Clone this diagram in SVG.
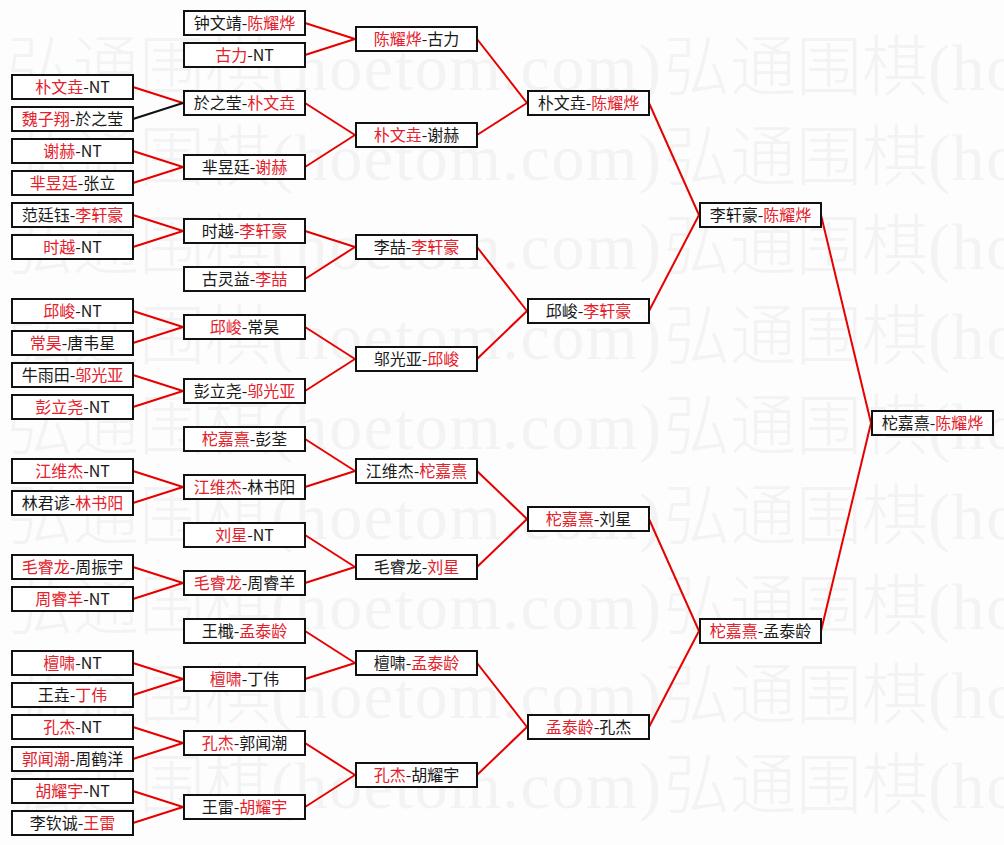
<svg xmlns="http://www.w3.org/2000/svg" width="1004" height="845" viewBox="0 0 1004 845">
<style>
.bg{fill:#fdfdfd}
.wm{font-family:"Noto Sans CJK SC",sans-serif;font-size:66px;font-weight:300;fill:#f3f3f3}
.wml{font-family:"Liberation Serif","Noto Sans CJK SC",serif;font-size:66px;fill:#f3f3f3}
.box{fill:#ffffff;stroke:#111111;stroke-width:2}
.t{font-family:"Noto Sans CJK SC",sans-serif;font-size:16px;fill:#1a1a1a;text-anchor:middle}
.r{fill:#e4212b}
.ln{stroke:#e60000;stroke-width:2;fill:none}
.lk{stroke:#111111;stroke-width:2;fill:none}
</style>
<defs>
<g id="wm">
<text class="wm" x="7" y="0">弘通围棋</text>
<text class="wml" x="271" y="0" textLength="390" lengthAdjust="spacing">(hoetom.com)</text>
</g>
</defs>
<rect class="bg" x="0" y="0" width="1004" height="845"/>
<g id="watermark">
<use href="#wm" x="0" y="90"/><use href="#wm" x="657" y="90"/>
<use href="#wm" x="0" y="180"/><use href="#wm" x="657" y="180"/>
<use href="#wm" x="0" y="269"/><use href="#wm" x="657" y="269"/>
<use href="#wm" x="0" y="359"/><use href="#wm" x="657" y="359"/>
<use href="#wm" x="0" y="449"/><use href="#wm" x="657" y="449"/>
<use href="#wm" x="0" y="539"/><use href="#wm" x="657" y="539"/>
<use href="#wm" x="0" y="629"/><use href="#wm" x="657" y="629"/>
<use href="#wm" x="0" y="718"/><use href="#wm" x="657" y="718"/>
<use href="#wm" x="0" y="808"/><use href="#wm" x="657" y="808"/>
</g>
<g id="connectors">
<line class="ln" x1="133" y1="87" x2="183" y2="103"/>
<line class="lk" x1="133" y1="119" x2="183" y2="103"/>
<line class="ln" x1="133" y1="151" x2="183" y2="167"/>
<line class="ln" x1="133" y1="183" x2="183" y2="167"/>
<line class="ln" x1="133" y1="215" x2="183" y2="231"/>
<line class="ln" x1="133" y1="247" x2="183" y2="231"/>
<line class="ln" x1="133" y1="311" x2="183" y2="327"/>
<line class="ln" x1="133" y1="343" x2="183" y2="327"/>
<line class="ln" x1="133" y1="375" x2="183" y2="391"/>
<line class="ln" x1="133" y1="407" x2="183" y2="391"/>
<line class="ln" x1="133" y1="471" x2="183" y2="487"/>
<line class="ln" x1="133" y1="503" x2="183" y2="487"/>
<line class="ln" x1="133" y1="567" x2="183" y2="583"/>
<line class="ln" x1="133" y1="599" x2="183" y2="583"/>
<line class="ln" x1="133" y1="663" x2="183" y2="679"/>
<line class="ln" x1="133" y1="695" x2="183" y2="679"/>
<line class="ln" x1="133" y1="727" x2="183" y2="743"/>
<line class="ln" x1="133" y1="759" x2="183" y2="743"/>
<line class="ln" x1="133" y1="791" x2="183" y2="807"/>
<line class="ln" x1="133" y1="823" x2="183" y2="807"/>
<line class="ln" x1="305" y1="23" x2="355" y2="39"/>
<line class="ln" x1="305" y1="55" x2="355" y2="39"/>
<line class="ln" x1="305" y1="103" x2="355" y2="135"/>
<line class="ln" x1="305" y1="167" x2="355" y2="135"/>
<line class="ln" x1="305" y1="231" x2="355" y2="247"/>
<line class="ln" x1="305" y1="279" x2="355" y2="247"/>
<line class="ln" x1="305" y1="327" x2="355" y2="359"/>
<line class="ln" x1="305" y1="391" x2="355" y2="359"/>
<line class="ln" x1="305" y1="439" x2="355" y2="471"/>
<line class="ln" x1="305" y1="487" x2="355" y2="471"/>
<line class="ln" x1="305" y1="535" x2="355" y2="567"/>
<line class="ln" x1="305" y1="583" x2="355" y2="567"/>
<line class="ln" x1="305" y1="631" x2="355" y2="663"/>
<line class="ln" x1="305" y1="679" x2="355" y2="663"/>
<line class="ln" x1="305" y1="743" x2="355" y2="775"/>
<line class="ln" x1="305" y1="807" x2="355" y2="775"/>
<line class="ln" x1="477" y1="39" x2="527" y2="103"/>
<line class="ln" x1="477" y1="135" x2="527" y2="103"/>
<line class="ln" x1="477" y1="247" x2="527" y2="311"/>
<line class="ln" x1="477" y1="359" x2="527" y2="311"/>
<line class="ln" x1="477" y1="471" x2="527" y2="519"/>
<line class="ln" x1="477" y1="567" x2="527" y2="519"/>
<line class="ln" x1="477" y1="663" x2="527" y2="727"/>
<line class="ln" x1="477" y1="775" x2="527" y2="727"/>
<line class="ln" x1="649" y1="103" x2="699" y2="215"/>
<line class="ln" x1="649" y1="311" x2="699" y2="215"/>
<line class="ln" x1="649" y1="519" x2="699" y2="631"/>
<line class="ln" x1="649" y1="727" x2="699" y2="631"/>
<line class="ln" x1="821" y1="215" x2="871" y2="423"/>
<line class="ln" x1="821" y1="631" x2="871" y2="423"/>
</g>
<!-- column 1 -->
<g id="r1-1"><rect class="box" x="12" y="75" width="121" height="24"/><text class="t" x="72.5" y="93"><tspan class="r">朴文垚</tspan>-NT</text></g>
<g id="r1-2"><rect class="box" x="12" y="107" width="121" height="24"/><text class="t" x="72.5" y="125"><tspan class="r">魏子翔</tspan>-於之莹</text></g>
<g id="r1-3"><rect class="box" x="12" y="139" width="121" height="24"/><text class="t" x="72.5" y="157"><tspan class="r">谢赫</tspan>-NT</text></g>
<g id="r1-4"><rect class="box" x="12" y="171" width="121" height="24"/><text class="t" x="72.5" y="189"><tspan class="r">芈昱廷</tspan>-张立</text></g>
<g id="r1-5"><rect class="box" x="12" y="203" width="121" height="24"/><text class="t" x="72.5" y="221">范廷钰-<tspan class="r">李轩豪</tspan></text></g>
<g id="r1-6"><rect class="box" x="12" y="235" width="121" height="24"/><text class="t" x="72.5" y="253"><tspan class="r">时越</tspan>-NT</text></g>
<g id="r1-7"><rect class="box" x="12" y="299" width="121" height="24"/><text class="t" x="72.5" y="317"><tspan class="r">邱峻</tspan>-NT</text></g>
<g id="r1-8"><rect class="box" x="12" y="331" width="121" height="24"/><text class="t" x="72.5" y="349"><tspan class="r">常昊</tspan>-唐韦星</text></g>
<g id="r1-9"><rect class="box" x="12" y="363" width="121" height="24"/><text class="t" x="72.5" y="381">牛雨田-<tspan class="r">邬光亚</tspan></text></g>
<g id="r1-10"><rect class="box" x="12" y="395" width="121" height="24"/><text class="t" x="72.5" y="413"><tspan class="r">彭立尧</tspan>-NT</text></g>
<g id="r1-11"><rect class="box" x="12" y="459" width="121" height="24"/><text class="t" x="72.5" y="477"><tspan class="r">江维杰</tspan>-NT</text></g>
<g id="r1-12"><rect class="box" x="12" y="491" width="121" height="24"/><text class="t" x="72.5" y="509">林君谚-<tspan class="r">林书阳</tspan></text></g>
<g id="r1-13"><rect class="box" x="12" y="555" width="121" height="24"/><text class="t" x="72.5" y="573"><tspan class="r">毛睿龙</tspan>-周振宇</text></g>
<g id="r1-14"><rect class="box" x="12" y="587" width="121" height="24"/><text class="t" x="72.5" y="605"><tspan class="r">周睿羊</tspan>-NT</text></g>
<g id="r1-15"><rect class="box" x="12" y="651" width="121" height="24"/><text class="t" x="72.5" y="669"><tspan class="r">檀啸</tspan>-NT</text></g>
<g id="r1-16"><rect class="box" x="12" y="683" width="121" height="24"/><text class="t" x="72.5" y="701">王垚-<tspan class="r">丁伟</tspan></text></g>
<g id="r1-17"><rect class="box" x="12" y="715" width="121" height="24"/><text class="t" x="72.5" y="733"><tspan class="r">孔杰</tspan>-NT</text></g>
<g id="r1-18"><rect class="box" x="12" y="747" width="121" height="24"/><text class="t" x="72.5" y="765"><tspan class="r">郭闻潮</tspan>-周鹤洋</text></g>
<g id="r1-19"><rect class="box" x="12" y="779" width="121" height="24"/><text class="t" x="72.5" y="797"><tspan class="r">胡耀宇</tspan>-NT</text></g>
<g id="r1-20"><rect class="box" x="12" y="811" width="121" height="24"/><text class="t" x="72.5" y="829">李钦诚-<tspan class="r">王雷</tspan></text></g>
<!-- column 2 -->
<g id="r2-1"><rect class="box" x="184" y="11" width="121" height="24"/><text class="t" x="244.5" y="29">钟文靖-<tspan class="r">陈耀烨</tspan></text></g>
<g id="r2-2"><rect class="box" x="184" y="43" width="121" height="24"/><text class="t" x="244.5" y="61"><tspan class="r">古力</tspan>-NT</text></g>
<g id="r2-3"><rect class="box" x="184" y="91" width="121" height="24"/><text class="t" x="244.5" y="109">於之莹-<tspan class="r">朴文垚</tspan></text></g>
<g id="r2-4"><rect class="box" x="184" y="155" width="121" height="24"/><text class="t" x="244.5" y="173">芈昱廷-<tspan class="r">谢赫</tspan></text></g>
<g id="r2-5"><rect class="box" x="184" y="219" width="121" height="24"/><text class="t" x="244.5" y="237">时越-<tspan class="r">李轩豪</tspan></text></g>
<g id="r2-6"><rect class="box" x="184" y="267" width="121" height="24"/><text class="t" x="244.5" y="285">古灵益-<tspan class="r">李喆</tspan></text></g>
<g id="r2-7"><rect class="box" x="184" y="315" width="121" height="24"/><text class="t" x="244.5" y="333"><tspan class="r">邱峻</tspan>-常昊</text></g>
<g id="r2-8"><rect class="box" x="184" y="379" width="121" height="24"/><text class="t" x="244.5" y="397">彭立尧-<tspan class="r">邬光亚</tspan></text></g>
<g id="r2-9"><rect class="box" x="184" y="427" width="121" height="24"/><text class="t" x="244.5" y="445"><tspan class="r">柁嘉熹</tspan>-彭荃</text></g>
<g id="r2-10"><rect class="box" x="184" y="475" width="121" height="24"/><text class="t" x="244.5" y="493"><tspan class="r">江维杰</tspan>-林书阳</text></g>
<g id="r2-11"><rect class="box" x="184" y="523" width="121" height="24"/><text class="t" x="244.5" y="541"><tspan class="r">刘星</tspan>-NT</text></g>
<g id="r2-12"><rect class="box" x="184" y="571" width="121" height="24"/><text class="t" x="244.5" y="589"><tspan class="r">毛睿龙</tspan>-周睿羊</text></g>
<g id="r2-13"><rect class="box" x="184" y="619" width="121" height="24"/><text class="t" x="244.5" y="637">王檝-<tspan class="r">孟泰龄</tspan></text></g>
<g id="r2-14"><rect class="box" x="184" y="667" width="121" height="24"/><text class="t" x="244.5" y="685"><tspan class="r">檀啸</tspan>-丁伟</text></g>
<g id="r2-15"><rect class="box" x="184" y="731" width="121" height="24"/><text class="t" x="244.5" y="749"><tspan class="r">孔杰</tspan>-郭闻潮</text></g>
<g id="r2-16"><rect class="box" x="184" y="795" width="121" height="24"/><text class="t" x="244.5" y="813">王雷-<tspan class="r">胡耀宇</tspan></text></g>
<!-- column 3 -->
<g id="r3-1"><rect class="box" x="356" y="27" width="121" height="24"/><text class="t" x="416.5" y="45"><tspan class="r">陈耀烨</tspan>-古力</text></g>
<g id="r3-2"><rect class="box" x="356" y="123" width="121" height="24"/><text class="t" x="416.5" y="141"><tspan class="r">朴文垚</tspan>-谢赫</text></g>
<g id="r3-3"><rect class="box" x="356" y="235" width="121" height="24"/><text class="t" x="416.5" y="253">李喆-<tspan class="r">李轩豪</tspan></text></g>
<g id="r3-4"><rect class="box" x="356" y="347" width="121" height="24"/><text class="t" x="416.5" y="365">邬光亚-<tspan class="r">邱峻</tspan></text></g>
<g id="r3-5"><rect class="box" x="356" y="459" width="121" height="24"/><text class="t" x="416.5" y="477">江维杰-<tspan class="r">柁嘉熹</tspan></text></g>
<g id="r3-6"><rect class="box" x="356" y="555" width="121" height="24"/><text class="t" x="416.5" y="573">毛睿龙-<tspan class="r">刘星</tspan></text></g>
<g id="r3-7"><rect class="box" x="356" y="651" width="121" height="24"/><text class="t" x="416.5" y="669">檀啸-<tspan class="r">孟泰龄</tspan></text></g>
<g id="r3-8"><rect class="box" x="356" y="763" width="121" height="24"/><text class="t" x="416.5" y="781"><tspan class="r">孔杰</tspan>-胡耀宇</text></g>
<!-- column 4 -->
<g id="r4-1"><rect class="box" x="528" y="91" width="121" height="24"/><text class="t" x="588.5" y="109">朴文垚-<tspan class="r">陈耀烨</tspan></text></g>
<g id="r4-2"><rect class="box" x="528" y="299" width="121" height="24"/><text class="t" x="588.5" y="317">邱峻-<tspan class="r">李轩豪</tspan></text></g>
<g id="r4-3"><rect class="box" x="528" y="507" width="121" height="24"/><text class="t" x="588.5" y="525"><tspan class="r">柁嘉熹</tspan>-刘星</text></g>
<g id="r4-4"><rect class="box" x="528" y="715" width="121" height="24"/><text class="t" x="588.5" y="733"><tspan class="r">孟泰龄</tspan>-孔杰</text></g>
<!-- column 5 -->
<g id="r5-1"><rect class="box" x="700" y="203" width="121" height="24"/><text class="t" x="760.5" y="221">李轩豪-<tspan class="r">陈耀烨</tspan></text></g>
<g id="r5-2"><rect class="box" x="700" y="619" width="121" height="24"/><text class="t" x="760.5" y="637"><tspan class="r">柁嘉熹</tspan>-孟泰龄</text></g>
<!-- final -->
<g id="r6-1"><rect class="box" x="872" y="411" width="121" height="24"/><text class="t" x="932.5" y="429">柁嘉熹-<tspan class="r">陈耀烨</tspan></text></g>
</svg>
